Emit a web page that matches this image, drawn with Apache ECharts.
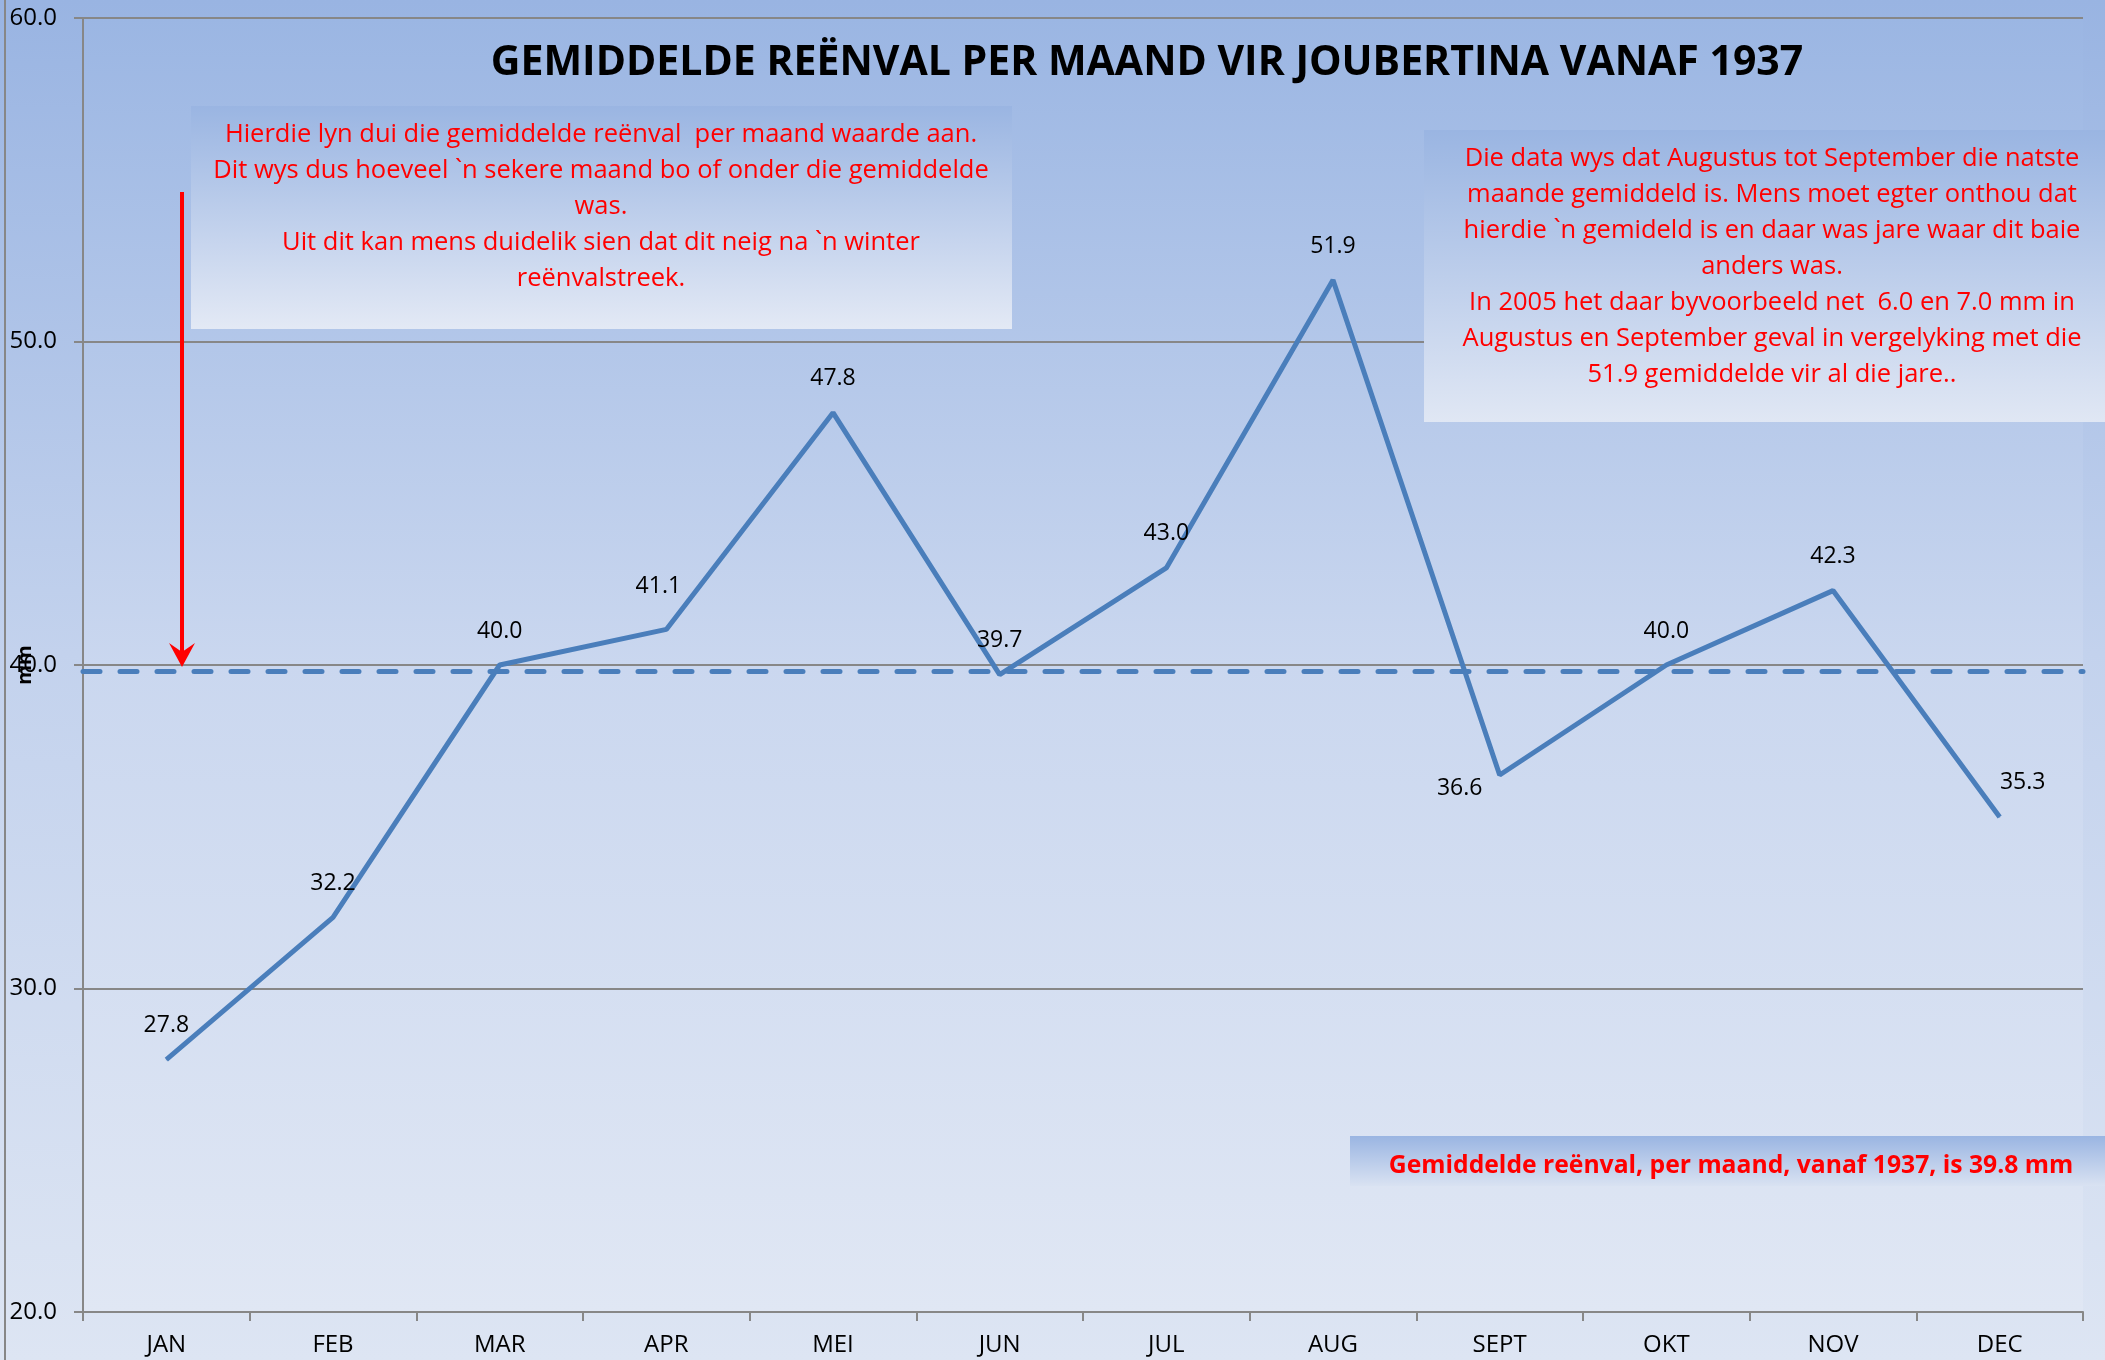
<!DOCTYPE html>
<html>
<head>
<meta charset="utf-8">
<script src="https://cdn.jsdelivr.net/npm/echarts@6/dist/echarts.min.js"></script>
<style>
  html, body { margin: 0; padding: 0; }
  body { background: linear-gradient(to bottom, #99b4e2 0%, #c3d2ed 48%, #dde5f3 100%); }
  #chart { width: 2105px; height: 1360px; }
</style>
</head>
<body>
<div id="chart"></div>
<script>
// months, values and the long-term mean
var months = ['JAN', 'FEB', 'MAR', 'APR', 'MEI', 'JUN', 'JUL', 'AUG', 'SEPT', 'OKT', 'NOV', 'DEC'];
var rainfall = [27.8, 32.2, 40.0, 41.1, 47.8, 39.7, 43.0, 51.9, 36.6, 40.0, 42.3, 35.3];
var averageRain = 39.8;
var yMin = 20, yMax = 60, yStep = 10;

(function() {
  var font = 'Open Sans';
  var lineBlue = '#4a7ebb';
  var gridGrey = '#878787';
  var red = '#ff0000';

  // a few labels were nudged by hand in the original
  var labelShift = { APR: [-8, -9], SEPT: [-40, 47], DEC: [23, -1] };

  var seriesData = rainfall.map(function(v, i) {
    var s = labelShift[months[i]];
    return s ? { value: v, label: { offset: s } } : v;
  });

  function box(x, y, w, h, top, bottom) {
    return {
      type: 'rect', z: 50,
      shape: { x: x, y: y, width: w, height: h },
      style: { fill: new echarts.graphic.LinearGradient(0, 0, 0, 1, [
        { offset: 0, color: top }, { offset: 1, color: bottom }
      ]) }
    };
  }

  function note(x, y, text, size, weight) {
    return {
      type: 'text', z: 60, x: x, y: y,
      style: {
        text: text, fill: red, font: weight + ' ' + size + 'px "' + font + '"',
        align: 'center', verticalAlign: 'top', lineHeight: 36
      }
    };
  }

  var chart = echarts.init(document.getElementById('chart'), null, { renderer: 'canvas' });

  chart.setOption({
    animation: false,
    backgroundColor: 'transparent',
    textStyle: { fontFamily: font },
    title: {
      text: 'GEMIDDELDE REËNVAL PER MAAND VIR JOUBERTINA VANAF 1937',
      left: 1142, top: 38, textAlign: 'center',
      textStyle: { color: '#000', fontSize: 41, fontWeight: 'bold', fontFamily: font }
    },
    grid: {
      left: 83, right: 22, top: 18, bottom: 48,
      outerBoundsMode: 'none',
      containLabel: false,
      show: true, borderWidth: 0,
      backgroundColor: new echarts.graphic.LinearGradient(0, 0, 0, 1, [
        { offset: 0, color: '#9bb6e3' }, { offset: 0.5, color: '#cad7ef' }, { offset: 1, color: '#e0e7f4' }
      ])
    },
    xAxis: {
      type: 'category',
      data: months,
      boundaryGap: true,
      axisLine: { lineStyle: { color: gridGrey, width: 2 } },
      axisTick: { show: true, length: 9, lineStyle: { color: gridGrey, width: 2 } },
      axisLabel: { interval: 0, margin: 21, color: '#000', fontSize: 24, fontFamily: font }
    },
    yAxis: {
      type: 'value',
      min: yMin, max: yMax, interval: yStep,
      name: 'mm',
      nameLocation: 'middle',
      nameRotate: 90,
      nameGap: 48,
      nameMoveOverlap: false,
      nameTextStyle: { color: '#000', fontSize: 20, fontWeight: 'bold', fontFamily: font },
      axisLine: { show: true, lineStyle: { color: gridGrey, width: 2 } },
      axisTick: { show: true, length: 9, lineStyle: { color: gridGrey, width: 2 } },
      splitLine: { lineStyle: { color: gridGrey, width: 2 } },
      axisLabel: {
        margin: 26, color: '#000', fontSize: 24, fontFamily: font,
        formatter: function(v) { return v.toFixed(1); }
      }
    },
    series: [{
      type: 'line',
      data: seriesData,
      symbol: 'circle',
      symbolSize: 1,
      itemStyle: { color: lineBlue },
      lineStyle: { color: lineBlue, width: 5 },
      label: {
        show: true, position: 'top', distance: 22,
        color: '#000', fontSize: 23, fontFamily: font,
        formatter: function(p) { return p.value.toFixed(1); }
      },
      markLine: {
        silent: true,
        symbol: 'none',
        label: { show: false },
        lineStyle: { color: lineBlue, width: 5, type: [17, 20], cap: 'round' },
        data: [{ yAxis: averageRain }]
      }
    }],
    graphic: [
      // chart border on the left
      { type: 'line', z: 40, shape: { x1: 5, y1: 0, x2: 5, y2: 1360 },
        style: { stroke: gridGrey, lineWidth: 2 } },
      box(191, 106, 821, 223, '#9ab5e2', '#e3e9f5'),
      note(601, 117,
        'Hierdie lyn dui die gemiddelde reënval  per maand waarde aan.\n' +
        'Dit wys dus hoeveel `n sekere maand bo of onder die gemiddelde\n' +
        'was.\n' +
        'Uit dit kan mens duidelik sien dat dit neig na `n winter\n' +
        'reënvalstreek.', 25.5, 'normal'),
      box(1424, 130, 681, 292, '#9ab5e2', '#e0e7f4'),
      note(1772, 141,
        'Die data wys dat Augustus tot September die natste\n' +
        'maande gemiddeld is. Mens moet egter onthou dat\n' +
        'hierdie `n gemideld is en daar was jare waar dit baie\n' +
        'anders was.\n' +
        'In 2005 het daar byvoorbeeld net  6.0 en 7.0 mm in\n' +
        'Augustus en September geval in vergelyking met die\n' +
        '51.9 gemiddelde vir al die jare..', 25.5, 'normal'),
      box(1350, 1136, 755, 50, '#9ab5e2', '#d9e2f2'),
      note(1731, 1148, 'Gemiddelde reënval, per maand, vanaf 1937, is 39.8 mm', 24.7, 'bold'),
      // red arrow pointing at the mean line
      { type: 'line', z: 70, shape: { x1: 182, y1: 192, x2: 182, y2: 655 },
        style: { stroke: red, lineWidth: 4 } },
      { type: 'polygon', z: 70, shape: { points: [[169, 643], [182, 667], [195, 643], [182, 652]] },
        style: { fill: red } }
    ]
  });

  window.addEventListener('resize', function() { chart.resize(); });
})();
</script>
</body>
</html>
